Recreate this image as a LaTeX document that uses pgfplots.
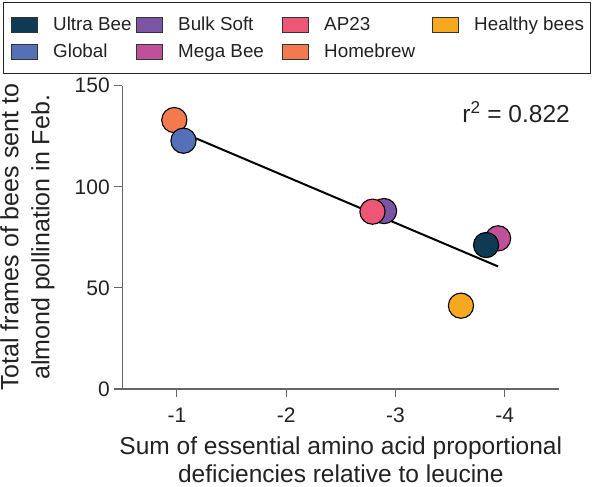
\documentclass[border=0pt]{standalone}
\usepackage{fontspec}
\setmainfont{Liberation Sans}
\usepackage{pgfplots}
\pgfplotsset{compat=1.18}
\definecolor{cUltra}{HTML}{0E3A53}
\definecolor{cGlobal}{HTML}{5470B6}
\definecolor{cBulk}{HTML}{7B55A3}
\definecolor{cMega}{HTML}{C1509A}
\definecolor{cAP}{HTML}{EE5676}
\definecolor{cHome}{HTML}{F27A4C}
\definecolor{cHealthy}{HTML}{F6A81E}
\definecolor{axgray}{HTML}{666666}
\definecolor{txt}{HTML}{222222}
\begin{document}
\begin{tikzpicture}
\begin{axis}[
  scale only axis,
  width=437bp, height=303.3bp,
  x dir=reverse,
  xmin=-4.5, xmax=-0.5,
  ymin=0, ymax=150,
  axis x line*=bottom, axis y line*=left,
  axis line style={axgray, line width=1.1bp},
  every tick/.style={axgray, line width=1.1bp},
  tick align=outside, major tick length=8bp,
  xtick={-1,-2,-3,-4}, xticklabels={-1,-2,-3,-4},
  ytick={0,50,100,150}, yticklabels={0,50,100,150},
  ticklabel style={font=\fontsize{21bp}{24bp}\selectfont, text=txt},
  xticklabel style={yshift=-7.5bp},
  yticklabel style={xshift=-1bp},
  xlabel={Sum of essential amino acid proportional\\deficiencies relative to leucine},
  ylabel={Total frames of bees sent to\\almond pollination in Feb.},
  xlabel style={align=center, font=\fontsize{24.5bp}{27.3bp}\selectfont, text=txt, at={(axis description cs:0.5,0)}, anchor=north, yshift=-44.5bp},
  ylabel style={align=center, font=\fontsize{25bp}{31bp}\selectfont, text=txt, at={(axis description cs:-0.217,0.5)}, anchor=center},
  clip=false,
  legend columns=4,
  legend cell align=left,
  legend style={at={(axis description cs:-0.273,1.276)}, anchor=north west,
    draw=black!85, line width=1.5bp, inner xsep=6.5bp, inner ysep=8bp,
    font=\fontsize{18.8bp}{22bp}\selectfont, text=txt,
    /tikz/column sep=0pt, /tikz/row sep=0pt,
    nodes={inner sep=0pt}},
  legend image code/.code={
    \draw[#1, draw=black!80, line width=0.7bp] (0bp,-7.5bp) rectangle (26.5bp,7.5bp);
    \path (0bp,-12.9bp) (41.5bp,12.9bp);
  },
]
\coordinate (O) at (rel axis cs:0,0);
% legend entries (row-wise order)
\addlegendimage{fill=cUltra}\addlegendentry{\makebox[82bp][l]{Ultra Bee}}
\addlegendimage{fill=cBulk}\addlegendentry{\makebox[103bp][l]{Bulk Soft}}
\addlegendimage{fill=cAP}\addlegendentry{\makebox[107bp][l]{AP23}}
\addlegendimage{fill=cHealthy}\addlegendentry{Healthy bees}
\addlegendimage{fill=cGlobal}\addlegendentry{\makebox[82bp][l]{Global}}
\addlegendimage{fill=cMega}\addlegendentry{\makebox[103bp][l]{Mega Bee}}
\addlegendimage{fill=cHome}\addlegendentry{\makebox[107bp][l]{Homebrew}}
% regression line
\addplot[black, line width=2bp, forget plot] coordinates {(-0.976,128.5) (-3.94,60.6)};
% data points
\addplot[only marks, mark=*, mark size=12.6bp, mark options={fill=cHome, draw=black, line width=1.1bp}, forget plot] coordinates {(-0.976,133.0)};
\addplot[only marks, mark=*, mark size=12.6bp, mark options={fill=cGlobal, draw=black, line width=1.1bp}, forget plot] coordinates {(-1.06,122.8)};
\addplot[only marks, mark=*, mark size=12.6bp, mark options={fill=cBulk, draw=black, line width=1.1bp}, forget plot] coordinates {(-2.896,88.0)};
\addplot[only marks, mark=*, mark size=12.6bp, mark options={fill=cAP, draw=black, line width=1.1bp}, forget plot] coordinates {(-2.79,87.7)};
\addplot[only marks, mark=*, mark size=12.6bp, mark options={fill=cMega, draw=black, line width=1.1bp}, forget plot] coordinates {(-3.94,74.5)};
\addplot[only marks, mark=*, mark size=12.6bp, mark options={fill=cUltra, draw=black, line width=1.1bp}, forget plot] coordinates {(-3.83,71.2)};
\addplot[only marks, mark=*, mark size=12.6bp, mark options={fill=cHealthy, draw=black, line width=1.1bp}, forget plot] coordinates {(-3.60,41.2)};
\node[anchor=east, font=\fontsize{24.5bp}{28bp}\selectfont, text=txt, inner sep=0pt] at (axis description cs:1.0245,0.914) {r\textsuperscript{2} = 0.822};
\end{axis}
\pgfresetboundingbox
\path ([shift={(-122.3bp,-98bp)}]O) rectangle ++(595bp,487bp);
\end{tikzpicture}
\end{document}
